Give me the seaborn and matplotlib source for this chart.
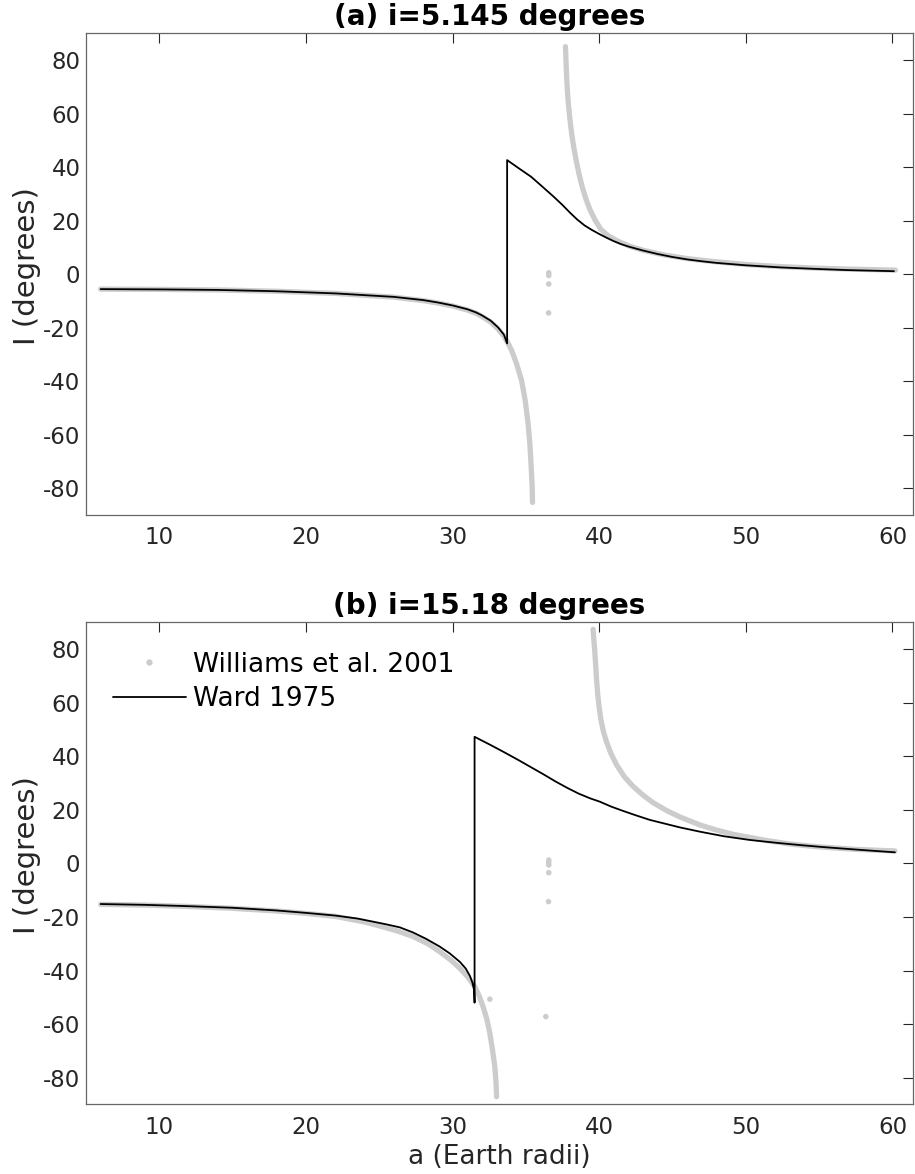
import pandas as pd
import matplotlib
matplotlib.use("Agg")
import matplotlib.pyplot as plt
import seaborn as sns
from matplotlib.lines import Line2D

sns.set_theme(style="white")
plt.rcParams["font.family"] = ["DejaVu Sans"]
plt.rcParams["axes.unicode_minus"] = False

GRAY = "#cccccc"

# ---- panel (a): i = 5.145 deg ----
a_gray_low_x = [6.0, 10, 14, 18, 22, 26, 28, 29, 30, 31, 31.6, 32, 32.6, 33.1, 33.5, 33.79,
                34.02, 34.36, 34.70, 34.95, 35.15, 35.27, 35.36, 35.43, 35.45]
a_gray_low_y = [-5.6, -5.7, -5.9, -6.4, -7.2, -8.6, -9.9, -10.8, -11.9, -13.4, -14.6, -15.8,
                -17.9, -20.5, -23.2, -25.9, -28.4, -33.4, -39.6, -47.1, -55.8, -63.3, -72.0,
                -79.5, -85.3]
a_gray_high_x = [37.70, 37.74, 37.78, 37.83, 37.9, 38.0, 38.12, 38.26, 38.43, 38.62, 38.85,
                 39.1, 39.36, 39.7, 40.1, 40.6, 41.2, 42.09, 43.0, 44.4, 46.0, 47.8, 50.0,
                 52.4, 55.0, 56.9, 60.2]
a_gray_high_y = [85.0, 79.0, 73.5, 68.5, 63.5, 58.0, 52.5, 47.5, 42.5, 37.5, 32.4,
                 28.0, 24.2, 20.4, 16.8, 14.4, 12.5, 10.4, 8.9, 7.2, 5.8, 4.7, 3.6,
                 2.8, 2.2, 1.9, 1.5]
a_dots_x = [36.56, 36.56, 36.56, 36.55]
a_dots_y = [0.5, -0.5, -3.7, -14.5]
a_ward_x = [6.0, 10, 14, 18, 22, 26, 28, 29, 30, 31, 31.6, 32, 32.6, 33.1, 33.5, 33.72,
            33.72, 34.5, 35.35, 36.1, 36.9, 37.5, 38.0, 38.5, 39.0, 39.5, 40.0, 40.5,
            41.0, 41.5, 42.0, 43.0, 44.0, 45.0, 46.0, 47.0, 48.0, 50.0, 52.4, 55.0,
            57.0, 60.1]
a_ward_y = [-5.6, -5.7, -5.9, -6.4, -7.2, -8.5, -9.7, -10.6, -11.7, -13.1, -14.3, -15.4,
            -17.4, -19.9, -22.6, -25.9, 42.6, 39.6, 36.4, 32.8, 28.9, 25.8, 23.0, 20.4,
            18.2, 16.5, 15.0, 13.6, 12.3, 11.2, 10.3, 8.8, 7.5, 6.4, 5.5, 4.8, 4.2, 3.3,
            2.5, 1.9, 1.5, 1.1]

# ---- panel (b): i = 15.18 deg ----
b_gray_low_x = [6.0, 9, 12, 15, 18, 20, 22, 24, 25.03, 26.2, 27.3, 28.3, 29.13, 29.9,
                30.5, 31.05, 31.51, 31.8, 32.08, 32.33, 32.54, 32.72, 32.88, 32.96, 33.0]
b_gray_low_y = [-15.3, -15.6, -16.1, -16.8, -17.8, -18.7, -19.8, -21.9, -23.4, -25.2,
                -27.3, -30.0, -33.0, -36.2, -39.2, -42.5, -46.0, -49.3, -53.5, -58.0,
                -63.4, -69.5, -75.9, -81.5, -87.1]
b_gray_high_x = [39.58, 39.64, 39.70, 39.76, 39.82, 39.9, 40.0, 40.12, 40.28, 40.5, 40.8,
                 41.18, 41.7, 42.31, 43.0, 43.68, 44.59, 45.5, 46.87, 48.0, 49.14, 51.41,
                 53.0, 54.82, 57.5, 60.17]
b_gray_high_y = [87.3, 83.0, 79.0, 74.0, 68.5, 63.0, 58.0, 53.5, 49.3, 45.3, 41.0,
                 36.8, 32.4, 28.7, 25.4, 22.6, 19.7, 17.3, 14.3, 12.4, 10.8, 8.5,
                 7.2, 6.2, 5.2, 4.6]
b_dots_x = [36.56, 36.56, 36.56, 36.56, 36.54, 32.54, 36.36]
b_dots_y = [1.2, 0.4, -0.6, -3.5, -14.3, -50.7, -57.2]
b_ward_x = [6.0, 9, 12, 15, 18, 20, 22, 23.5, 24.6, 25.5, 26.4, 27.3, 28.2, 29.13, 29.8,
            30.5, 30.9, 31.18, 31.35, 31.47, 31.5, 31.5, 32.5, 33.5, 34.5, 35.3, 36.2,
            37.0, 37.8, 38.6, 39.4, 40.04, 40.8, 41.6, 42.5, 43.45, 44.4, 45.5, 46.87,
            48.5, 50.28, 52.0, 53.69, 55.4, 57.1, 58.6, 60.17]
b_ward_y = [-15.2, -15.5, -16.0, -16.6, -17.6, -18.5, -19.5, -20.6, -21.8, -22.8, -23.9,
            -25.8, -28.2, -31.1, -33.6, -36.8, -39.3, -42.0, -44.5, -47.3, -52.0, 47.2,
            44.4, 41.5, 38.5, 36.0, 33.2, 30.6, 28.2, 26.0, 24.2, 23.0, 21.2, 19.6, 17.9,
            16.2, 14.9, 13.4, 11.8, 10.1, 8.7, 7.7, 6.8, 6.0, 5.3, 4.7, 4.1]

panels = [
    ("(a) i=5.145 degrees", a_gray_low_x, a_gray_low_y, a_gray_high_x, a_gray_high_y,
     a_dots_x, a_dots_y, a_ward_x, a_ward_y),
    ("(b) i=15.18 degrees", b_gray_low_x, b_gray_low_y, b_gray_high_x, b_gray_high_y,
     b_dots_x, b_dots_y, b_ward_x, b_ward_y),
]

fig = plt.figure(figsize=(9.15, 11.74), dpi=100)
rects = [[0.094, 0.5613, 0.9038, 0.4104], [0.094, 0.0592, 0.9038, 0.4109]]

for rect, (title, glx, gly, ghx, ghy, dx, dy, wx, wy) in zip(rects, panels):
    ax = fig.add_axes(rect)
    for gx, gy in [(glx, gly), (ghx, ghy)]:
        sns.lineplot(x=gx, y=gy, sort=False, estimator=None, color=GRAY, lw=3.8,
                     solid_capstyle="round", ax=ax)
    sns.scatterplot(x=dx, y=dy, color=GRAY, s=16, edgecolor="none", ax=ax)
    sns.lineplot(x=wx, y=wy, sort=False, estimator=None, color="black", lw=1.3, ax=ax)

    ax.set_xlim(5, 61.4)
    ax.set_ylim(-90, 90)
    ax.set_xticks([10, 20, 30, 40, 50, 60])
    ax.set_yticks(range(-80, 81, 20))
    ax.tick_params(direction="in", length=7, width=0.8, top=True, right=True,
                   colors="#262626", labelsize=16.5)
    ax.tick_params(axis="x", pad=8)
    ax.tick_params(axis="y", pad=4)
    for sp in ax.spines.values():
        sp.set_color("#666666")
        sp.set_linewidth(0.9)
    ax.set_title(title, fontweight="bold", fontsize=20, pad=6, color="black", x=0.488)
    ax.set_ylabel("I (degrees)", fontsize=21, color="#262626")
    ax.yaxis.set_label_coords(-0.055, 0.517)

ax.set_xlabel("a (Earth radii)", fontsize=19, color="#262626")
handles = [Line2D([], [], marker="o", ls="none", color=GRAY, markersize=3.5),
           Line2D([], [], color="black", lw=1.3)]
leg = ax.legend(handles, ["Williams et al. 2001", "Ward 1975"], loc="upper left",
                bbox_to_anchor=(0.0326, 0.939), frameon=False, fontsize=19,
                handlelength=2.75, handletextpad=0.3, borderpad=0, borderaxespad=0,
                labelspacing=0.33)
for t in leg.get_texts():
    t.set_color("black")

fig.savefig("out.png", dpi=100)
